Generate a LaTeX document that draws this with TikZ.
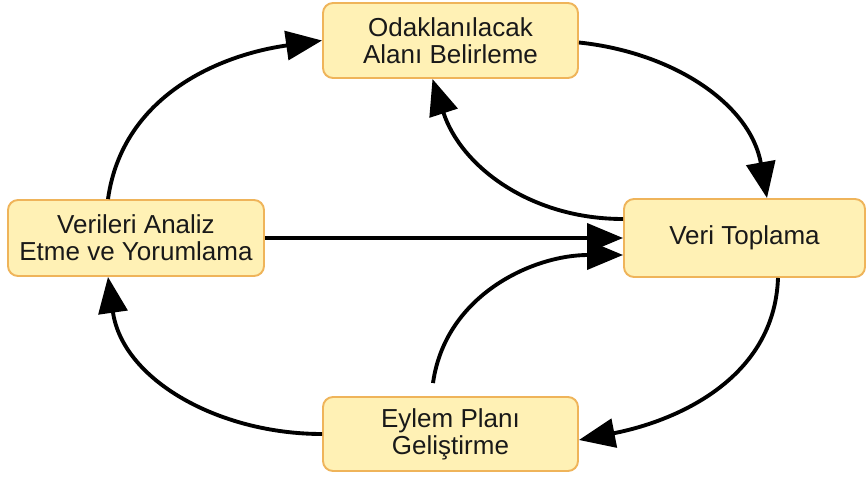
\documentclass[tikz,border=0pt]{standalone}
\usepackage{fontspec}
\setmainfont{Liberation Sans}
\usepackage{tikz}
\usetikzlibrary{arrows.meta}

\definecolor{boxfill}{HTML}{FFF1B5}
\definecolor{boxline}{HTML}{EFB45A}

\begin{document}
\begin{tikzpicture}[
  box/.style={draw=boxline, fill=boxfill, line width=1.1pt, rounded corners=0.2cm,
    align=center, text=black!90, font=\fontsize{14.8}{15.4}\selectfont},
  link/.style={line width=2.2pt, -{Triangle[length=0.72cm,width=0.58cm]}}
]
\useasboundingbox (0,0) rectangle (17.34,9.52);

	\node[box, minimum width=5.1cm, minimum height=1.5cm] (odak) at (9.01,8.71) {Odaklanılacak\\Alanı Belirleme};
	\node[box, minimum width=4.82cm, minimum height=1.56cm] (veri) at (14.89,4.76) {Veri Toplama};
	\node[box, minimum width=5.12cm, minimum height=1.52cm] (analiz) at (2.72,4.76) {Verileri Analiz\\Etme ve Yorumlama};
	\node[box, minimum width=5.1cm, minimum height=1.48cm] (eylem) at (9.01,0.84) {Eylem Planı\\Geliştirme};

	\draw[link] ([xshift=-0.56cm]analiz.north) to[out=82,in=188] (odak.west);
	\draw[link] ([yshift=-0.04cm]odak.east) to[out=-6,in=100] ([xshift=0.45cm]veri.north);
	\draw[link] ([xshift=0.67cm]veri.south) to[out=-92,in=11] ([yshift=-0.12cm]eylem.east);
	\draw[link] (eylem.west) to[out=180,in=-82] ([xshift=-0.56cm]analiz.south);
	\draw[link] (analiz.east) -- (veri.west);
	\draw[link] ([xshift=-0.35cm,yshift=0.26cm]eylem.north) to[out=82,in=180] ([yshift=-0.34cm]veri.west);
	\draw[link] ([yshift=0.38cm]veri.west) to[out=180,in=-72] ([xshift=-0.36cm]odak.south);
\end{tikzpicture}
\end{document}
